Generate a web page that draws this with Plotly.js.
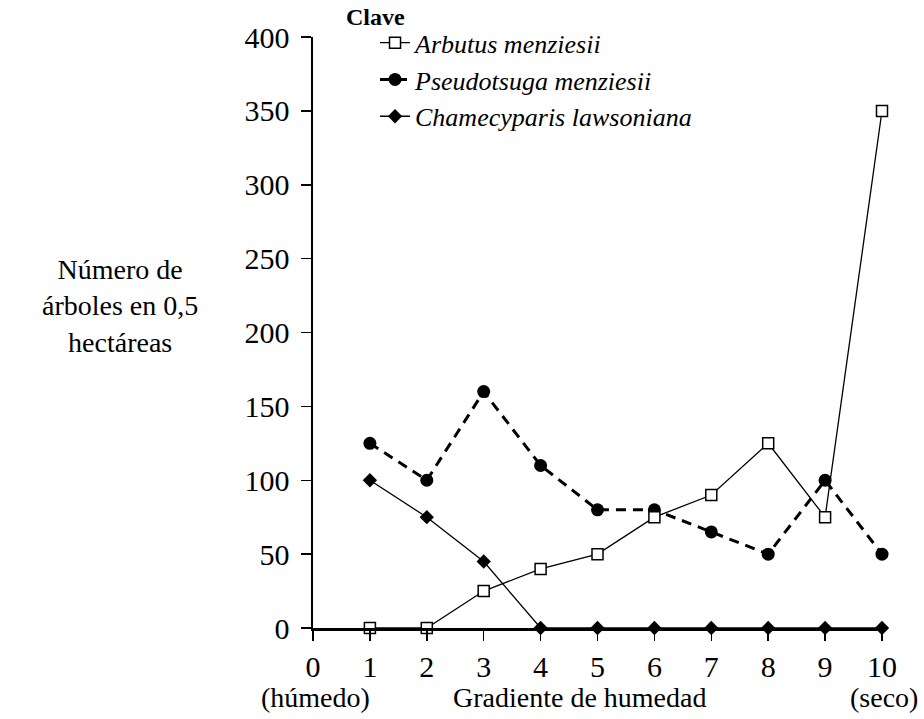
<!DOCTYPE html>
<html><head><meta charset="utf-8">
<script src="https://cdn.plot.ly/plotly-3.0.1.min.js"></script>
<style>body{margin:0;background:#fff}#chart{width:924px;height:719px}
#chart text{font-family:'Liberation Serif','Times New Roman',serif !important}</style>
</head><body><div id="chart"></div>
<script>
const gradient = [1,2,3,4,5,6,7,8,9,10];
const arbutus = [0,0,25,40,50,75,90,125,75,350];
const pseudotsuga = [125,100,160,110,80,80,65,50,100,50];
const chamaecyparis = [100,75,45,0,0,0,0,0,0,0];
const xTicks = [0,1,2,3,4,5,6,7,8,9,10];
const yTicks = [0,50,100,150,200,250,300,350,400];

const FONT = "Liberation Serif";

const traces = [
  {x: gradient, y: chamaecyparis, name: 'Chamecyparis lawsoniana', mode: 'lines+markers',
   line: {color: '#000', width: 1.3}, marker: {symbol: 'diamond', size: 11, color: '#000'},
   cliponaxis: false, legendrank: 3},
  {x: gradient, y: pseudotsuga, name: 'Pseudotsuga menziesii', mode: 'lines+markers',
   line: {color: '#000', width: 3, dash: '10px,7px'}, marker: {symbol: 'circle', size: 13, color: '#000'},
   cliponaxis: false, legendrank: 2},
  {x: gradient, y: arbutus, name: 'Arbutus menziesii', mode: 'lines+markers',
   line: {color: '#000', width: 1.3}, marker: {symbol: 'square', size: 11, color: '#fff', line: {color: '#000', width: 1.5}},
   cliponaxis: false, legendrank: 1}
];

const layout = {
  width: 924, height: 719,
  margin: {l: 313, r: 42, t: 37, b: 91},
  paper_bgcolor: '#fff', plot_bgcolor: '#fff',
  font: {family: FONT, color: '#000', size: 28},
  showlegend: true,
  legend: {x: 0.109, y: 1.03, xanchor: 'left', yanchor: 'top',
    font: {family: FONT, size: 26, style: 'italic'},
    bgcolor: 'rgba(0,0,0,0)', itemwidth: 30, tracegroupgap: 0},
  xaxis: {range: [0, 10], tickvals: xTicks, ticktext: xTicks.map(String), showgrid: false, zeroline: false,
    showline: true, linecolor: '#000', linewidth: 2.5, ticks: 'outside', ticklen: 10, tickwidth: 1.5, tickcolor: '#000',
    tickfont: {family: FONT, size: 30}, fixedrange: true},
  yaxis: {range: [0, 400], tickvals: yTicks, ticktext: yTicks.map(String), showgrid: false, zeroline: false,
    showline: true, linecolor: '#000', linewidth: 2.5, ticks: 'outside', ticklen: 10, tickwidth: 1.5, tickcolor: '#000',
    tickfont: {family: FONT, size: 30}, ticklabelstandoff: 5, fixedrange: true},
  annotations: [
    {text: 'Clave', xref: 'paper', yref: 'paper', x: 0.054, y: 1.034, xanchor: 'left', yanchor: 'middle',
     showarrow: false, font: {family: FONT, size: 24, weight: 'bold'}},
    {text: 'Número de<br>árboles en 0,5<br>hectáreas', xref: 'paper', yref: 'paper', x: -0.34, y: 0.545,
     xanchor: 'center', yanchor: 'middle', showarrow: false, font: {family: FONT, size: 28}, align: 'center'},
    {text: '(húmedo)', xref: 'paper', yref: 'paper', x: 0.005, y: -0.118, xanchor: 'center', yanchor: 'middle', showarrow: false, font: {family: FONT, size: 28}},
    {text: 'Gradiente de humedad', xref: 'paper', yref: 'paper', x: 0.469, y: -0.118, xanchor: 'center', yanchor: 'middle', showarrow: false, font: {family: FONT, size: 28}},
    {text: '(seco)', xref: 'paper', yref: 'paper', x: 1.004, y: -0.118, xanchor: 'center', yanchor: 'middle', showarrow: false, font: {family: FONT, size: 28}}
  ]
};
Plotly.newPlot('chart', traces, layout, {displayModeBar: false, staticPlot: true});
</script></body></html>
